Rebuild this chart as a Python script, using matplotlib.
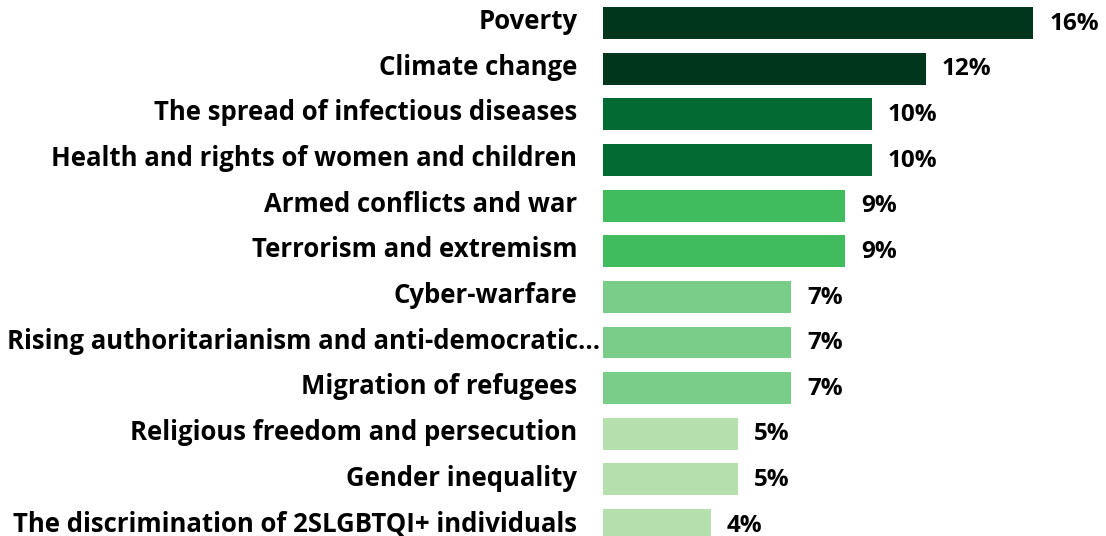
import matplotlib.pyplot as plt

# Share of respondents naming each issue
issues = [
    "Poverty",
    "Climate change",
    "The spread of infectious diseases",
    "Health and rights of women and children",
    "Armed conflicts and war",
    "Terrorism and extremism",
    "Cyber-warfare",
    "Rising authoritarianism and anti-democratic\u2026",
    "Migration of refugees",
    "Religious freedom and persecution",
    "Gender inequality",
    "The discrimination of 2SLGBTQI+ individuals",
]
shares = [16, 12, 10, 10, 9, 9, 7, 7, 7, 5, 5, 4]
bar_colors = [
    "#00361c", "#00361c",
    "#036a34", "#036a34",
    "#40bc5f", "#40bc5f",
    "#7acd89", "#7acd89", "#7acd89",
    "#b5dfad", "#b5dfad", "#b5dfad",
]

plt.rcParams["font.family"] = ["Open Sans", "DejaVu Sans"]
plt.rcParams["font.weight"] = "bold"

fig = plt.figure(figsize=(11.06, 5.36), dpi=100)
ax = fig.add_axes([603 / 1106, 0, 1 - 603 / 1106, 1])

pos = list(range(len(issues)))
bars = ax.barh(pos, shares, height=0.70, color=bar_colors)

for rect, val in zip(bars, shares):
    ax.annotate(f"{val}%", xy=(rect.get_width(), rect.get_y() + rect.get_height() / 2),
                xytext=(11.5, -0.5), textcoords="offset points",
                va="center", ha="left", fontsize=17.5, fontweight="bold",
                color="black", annotation_clip=False)

# category labels; the truncated one runs right up to the bar
for i, name in enumerate(issues):
    dx = -2 if name.endswith("\u2026") else -18.5
    ax.annotate(name, xy=(0, i), xytext=(dx, 1), textcoords="offset points",
                va="center", ha="right", fontsize=18.5, fontweight="bold",
                color="black", annotation_clip=False)

ax.set_yticks([])
ax.set_xticks([])
ax.set_xlim(0, 503 / 26.9)
ax.set_ylim(11.24, -0.504)
for s in ax.spines.values():
    s.set_visible(False)

fig.savefig("out.png", dpi=100)
